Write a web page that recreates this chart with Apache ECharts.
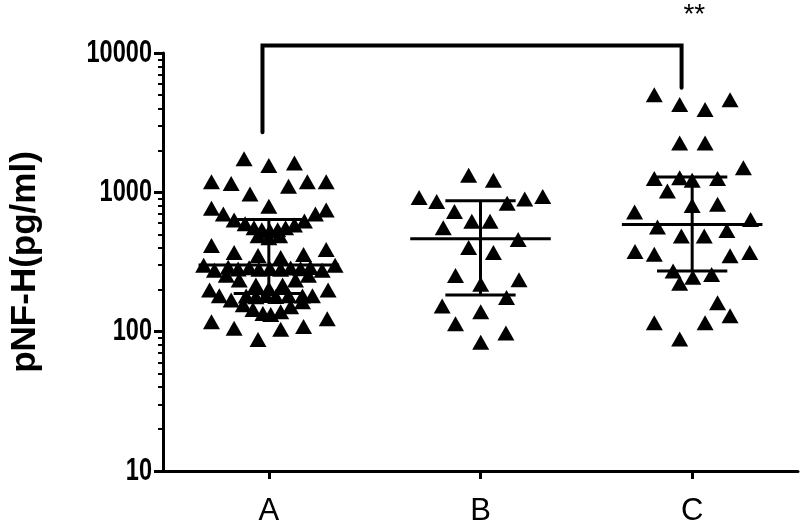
<!DOCTYPE html>
<html>
<head>
<meta charset="utf-8">
<script src="https://cdn.jsdelivr.net/npm/echarts@6/dist/echarts.min.js"></script>
<style>html,body{margin:0;padding:0;background:#fff}#c{width:800px;height:527px}</style>
</head>
<body>
<div id="c"></div>
<script>
// ---- data ----
const categories = ['A', 'B', 'C'];
const yMajorTicks = [10, 100, 1000, 10000];
const yMinorTicks = [20,30,40,50,60,70,80,90,200,300,400,500,600,700,800,900,2000,3000,4000,5000,6000,7000,8000,9000];

const valuesA = [1740,1561,1623,1190,1158,973,1108,1190,1190,796,
  770,699,634,594,556,538,530,538,556,584,623,699,746,488,473,488,
  415,370,352,341,358,389,
  290,282,287,280,284,281,286,283,289,
  300,276,254,235,216,203,216,235,254,276,300,
  199,181,169,156,144,135,133,139,151,164,181,199,
  180,178,182,179,181,180,
  118,106,88,104,109,124];
const jitterA = [-0.117,0,0.121,-0.271,-0.178,-0.089,0.093,0.182,0.271,0,
  -0.271,-0.215,-0.164,-0.112,-0.070,-0.033,0.005,0.042,0.079,0.121,0.168,0.220,0.271,-0.051,0,0.051,
  -0.271,-0.164,-0.051,0.056,0.164,0.271,
  -0.192,-0.145,-0.093,-0.047,0.005,0.056,0.103,0.150,0.196,
  -0.308,-0.257,-0.201,-0.140,-0.061,0,0.065,0.126,0.187,0.252,0.313,
  -0.280,-0.234,-0.178,-0.121,-0.075,-0.028,0.009,0.056,0.103,0.159,0.206,0.280,
  -0.107,-0.061,-0.014,0.033,0.093,0.159,
  -0.271,-0.164,-0.051,0.056,0.164,0.276];

const valuesB = [1325,1222,917,859,836,897,932,730,620,620,556,459,402,370,253,236,219,176,153,139,114,97.7,84];
const jitterB = [-0.056,0.061,-0.290,-0.207,0.126,0.209,0.294,-0.123,-0.041,0.045,-0.176,0.178,-0.056,0.061,-0.118,0.182,0.001,0.123,-0.181,0.001,-0.118,0.120,0.001];

const valuesC = [5020,4265,3930,4625,2259,2259,1503,1256,1270,1222,1256,1021,805,822,722,637,563,532,486,486,376,360,351,370,272,246,257,223,161,116,116,130,88.7];
const jitterC = [-0.179,-0.059,0.061,0.179,-0.059,0.061,0.242,-0.179,-0.059,0,0.120,-0.117,0,0.120,-0.272,0.276,-0.164,0.164,-0.051,0.057,-0.270,-0.179,0.179,0.272,-0.090,0.003,0.092,-0.059,0.120,-0.179,0.061,0.179,-0.059];

const medians = [301, 465, 587];
const q1 = [188, 183, 272];
const q3 = [637, 869, 1291];

// significance bracket between A and C
const bracketX = [-0.03, 1.95];          // category units
const bracketY = [2701, 11340, 5625];    // left foot, top, right foot
const sigLabel = '**';
const sigPos = [2.01, 23600];

// ---- styles ----
const FONT = 'Liberation Sans, Arial, Helvetica, sans-serif';
const MEDIAN_HALF = 0.332;
const CAP_HALF = 0.166;
const TICK_LABEL_GAP = 11;
const TICK_LABEL_SQUEEZE = 0.76;

const groups = [valuesA, valuesB, valuesC];
const jitters = [jitterA, jitterB, jitterC];
const scatterData = [];
groups.forEach((vals, gi) => {
  vals.forEach((v, j) => scatterData.push([gi + jitters[gi][j], v]));
});
const summaryData = categories.map((c, i) => [i, medians[i], q1[i], q3[i]]);
const tickLabelData = yMajorTicks.map(v => [-0.5, v]);

const chart = echarts.init(document.getElementById('c'), null, {renderer: 'canvas'});
chart.setOption({
  animation: false,
  backgroundColor: '#fff',
  grid: {left: 155, right: 2, top: 53, bottom: 50, containLabel: false},
  xAxis: [
    {
      type: 'category', data: categories, boundaryGap: true, position: 'bottom',
      axisLine: {show: true, onZero: false, lineStyle: {color: '#000', width: 3}},
      axisTick: {show: true, alignWithLabel: true, length: 8, lineStyle: {color: '#000', width: 3}},
      axisLabel: {color: '#000', fontSize: 31, fontFamily: FONT, margin: 25},
      splitLine: {show: false}
    },
    {type: 'value', min: -0.5, max: 2.5, show: false,
     axisLine: {show: false, onZero: false}, splitLine: {show: false}}
  ],
  yAxis: [
    {
      type: 'log', logBase: 10, min: 10, max: 10000, position: 'left',
      name: 'pNF-H(pg/ml)', nameLocation: 'middle', nameGap: 120,
      nameTextStyle: {color: '#000', fontSize: 35, fontWeight: 'bold', fontFamily: FONT},
      axisLine: {show: true, onZero: false, lineStyle: {color: '#000', width: 3}},
      axisTick: {show: true, length: 9, customValues: yMajorTicks, lineStyle: {color: '#000', width: 3}},
      axisLabel: {show: false},
      splitLine: {show: false}
    },
    {
      type: 'log', logBase: 10, min: 10, max: 10000, position: 'left', offset: 0,
      axisLine: {show: false, onZero: false},
      axisTick: {show: true, length: 5, customValues: yMinorTicks, lineStyle: {color: '#000', width: 2}},
      axisLabel: {show: false},
      splitLine: {show: false}
    }
  ],
  series: [
    {
      type: 'scatter', xAxisIndex: 1, yAxisIndex: 0,
      symbol: 'triangle', symbolSize: [17, 15],
      itemStyle: {color: '#000', opacity: 1},
      data: scatterData, z: 2
    },
    {
      type: 'custom', xAxisIndex: 1, yAxisIndex: 0, clip: false, z: 3,
      data: summaryData,
      renderItem: function (params, api) {
        const i = api.value(0), m = api.value(1), lo = api.value(2), hi = api.value(3);
        const ml = api.coord([i - MEDIAN_HALF, m]), mr = api.coord([i + MEDIAN_HALF, m]);
        const ll = api.coord([i - CAP_HALF, lo]), lr = api.coord([i + CAP_HALF, lo]);
        const hl = api.coord([i - CAP_HALF, hi]), hr = api.coord([i + CAP_HALF, hi]);
        const vb = api.coord([i, lo]), vt = api.coord([i, hi]);
        const st = {stroke: '#000', lineWidth: 3};
        return {type: 'group', children: [
          {type: 'line', shape: {x1: ml[0], y1: ml[1], x2: mr[0], y2: mr[1]}, style: st},
          {type: 'line', shape: {x1: ll[0], y1: ll[1], x2: lr[0], y2: lr[1]}, style: st},
          {type: 'line', shape: {x1: hl[0], y1: hl[1], x2: hr[0], y2: hr[1]}, style: st},
          {type: 'line', shape: {x1: vb[0], y1: vb[1], x2: vt[0], y2: vt[1]}, style: st}
        ]};
      }
    },
    {
      // y tick labels, placed through the log axis (narrow lettering like the original)
      type: 'custom', xAxisIndex: 1, yAxisIndex: 0, clip: false, z: 5,
      data: tickLabelData,
      renderItem: function (params, api) {
        const p = api.coord([api.value(0), api.value(1)]);
        return {type: 'text', x: p[0] - TICK_LABEL_GAP, y: p[1], scaleX: TICK_LABEL_SQUEEZE,
          style: {text: String(api.value(1)), fill: '#000', fontSize: 31, fontWeight: 'bold',
                  fontFamily: FONT, align: 'right', verticalAlign: 'middle'}};
      }
    },
    {
      type: 'custom', xAxisIndex: 1, yAxisIndex: 0, clip: false, z: 4,
      data: [[0]],
      renderItem: function (params, api) {
        const a = api.coord([bracketX[0], bracketY[0]]);
        const b = api.coord([bracketX[0], bracketY[1]]);
        const c = api.coord([bracketX[1], bracketY[1]]);
        const d = api.coord([bracketX[1], bracketY[2]]);
        const s = api.coord(sigPos);
        return {type: 'group', children: [
          {type: 'polyline', shape: {points: [a, b, c, d]},
           style: {stroke: '#000', lineWidth: 4, fill: null, lineJoin: 'miter', lineCap: 'round'}},
          {type: 'text', x: s[0], y: s[1],
           style: {text: sigLabel, fill: '#000', fontSize: 28, fontFamily: FONT, align: 'center', verticalAlign: 'top'}}
        ]};
      }
    }
  ]
});
</script>
</body>
</html>
